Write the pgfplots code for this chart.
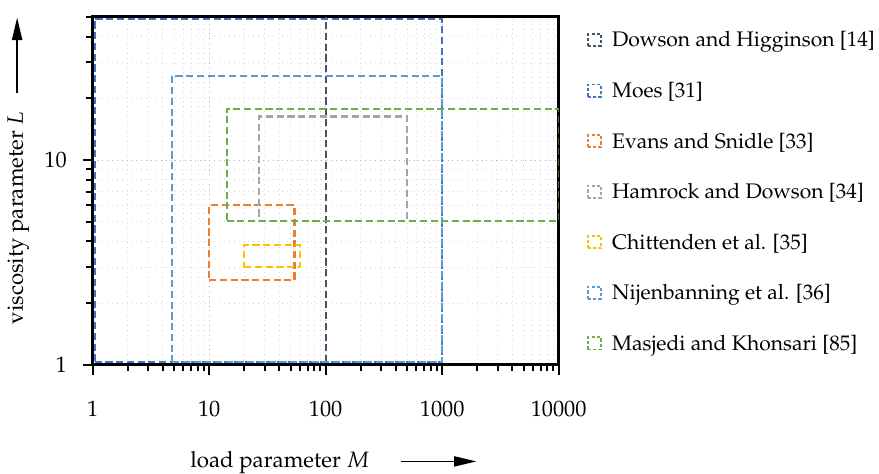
\documentclass[border=0pt]{standalone}
\usepackage[T1]{fontenc}
\usepackage{mathpazo}
\usepackage{pgfplots}
\pgfplotsset{compat=1.18}
\usetikzlibrary{arrows.meta}

\definecolor{cDH}{HTML}{44546A}
\definecolor{cMo}{HTML}{4472C4}
\definecolor{cES}{HTML}{ED7D31}
\definecolor{cHD}{HTML}{A5A5A5}
\definecolor{cCh}{HTML}{FFC000}
\definecolor{cNi}{HTML}{5B9BD5}
\definecolor{cMK}{HTML}{70AD47}

\newcommand{\labarrow}{\tikz[baseline=-0.55ex]\draw[line width=0.8pt,-{Triangle[length=11pt,width=5pt]}] (0,0)--(37pt,0);}

\begin{document}
\fontsize{11}{13.2}\selectfont
\begin{tikzpicture}
\begin{axis}[
  xmode=log, ymode=log,
  scale only axis, width=230pt, height=171.8pt,
  xmin=1, xmax=10000, ymin=1, ymax=50,
  xtick={1,10,100,1000,10000},
  xticklabels={1,10,100,1000,10000},
  minor xtick={2,3,4,5,6,7,8,9,20,30,40,50,60,70,80,90,200,300,400,500,600,700,800,900,2000,3000,4000,5000,6000,7000,8000,9000},
  ytick={1,10}, yticklabels={1,10},
  minor ytick={2,3,4,5,6,7,8,9,20,30,40,50},
  tick pos=left,
  tick align=outside,
  major tick length=5pt, minor tick length=3.2pt,
  tick style={black, line width=1pt},
  axis line style={black, line width=1.3pt},
  grid=both,
  major grid style={dotted, gray!60, line width=0.4pt},
  minor grid style={dotted, gray!30, line width=0.4pt},
  xticklabel style={anchor=north, yshift=-9pt},
  yticklabel style={anchor=east, xshift=-4pt},
  xlabel={load parameter $M$\hspace{15.5pt}\labarrow},
  xlabel style={inner ysep=0pt, yshift=-13pt, xshift=4pt},
  ylabel={viscosity parameter $L$\hspace{9pt}\labarrow},
  ylabel style={xshift=10pt},
  every axis plot/.append style={line width=1pt, dash pattern=on 3.5pt off 1.8pt},
  legend style={draw=none, fill=none, inner sep=0pt, at={(1.06,0.97)}, anchor=north west,
    row sep=11.8pt, cells={anchor=west}, font=\fontsize{10.4}{12.5}\selectfont},
  legend image code/.code={\draw[#1, line width=0.9pt, dash pattern=on 1.6pt off 1pt] (0pt,-2.5pt) rectangle (6.5pt,3.5pt); \path (9.5pt,0pt);},
]
\addplot[cDH] coordinates {(100,1.03) (100,50)};
\addlegendentry{Dowson and Higginson [14]}
\addplot[cMo] coordinates {(1.04,1.03) (1000,1.03) (1000,49) (1.04,49) (1.04,1.03)};
\addlegendentry{Moes [31]}
\addplot[cES] coordinates {(10,2.59) (54,2.59) (54,6.0) (10,6.0) (10,2.59)};
\addlegendentry{Evans and Snidle [33]}
\addplot[cHD] coordinates {(26.6,5.06) (500,5.06) (500,16.3) (26.6,16.3) (26.6,5.06)};
\addlegendentry{Hamrock and Dowson [34]}
\addplot[cCh] coordinates {(20,3.0) (60,3.0) (60,3.85) (20,3.85) (20,3.0)};
\addlegendentry{Chittenden et al. [35]}
\addplot[cNi] coordinates {(4.8,1.03) (1000,1.03) (1000,25.7) (4.8,25.7) (4.8,1.03)};
\addlegendentry{Nijenbanning et al. [36]}
\addplot[cMK] coordinates {(14.1,5.06) (10000,5.06) (10000,17.8) (14.1,17.8) (14.1,5.06)};
\addlegendentry{Masjedi and Khonsari [85]}
\end{axis}
\path (current axis.north west) ++(0,8.3pt);
\end{tikzpicture}
\end{document}
